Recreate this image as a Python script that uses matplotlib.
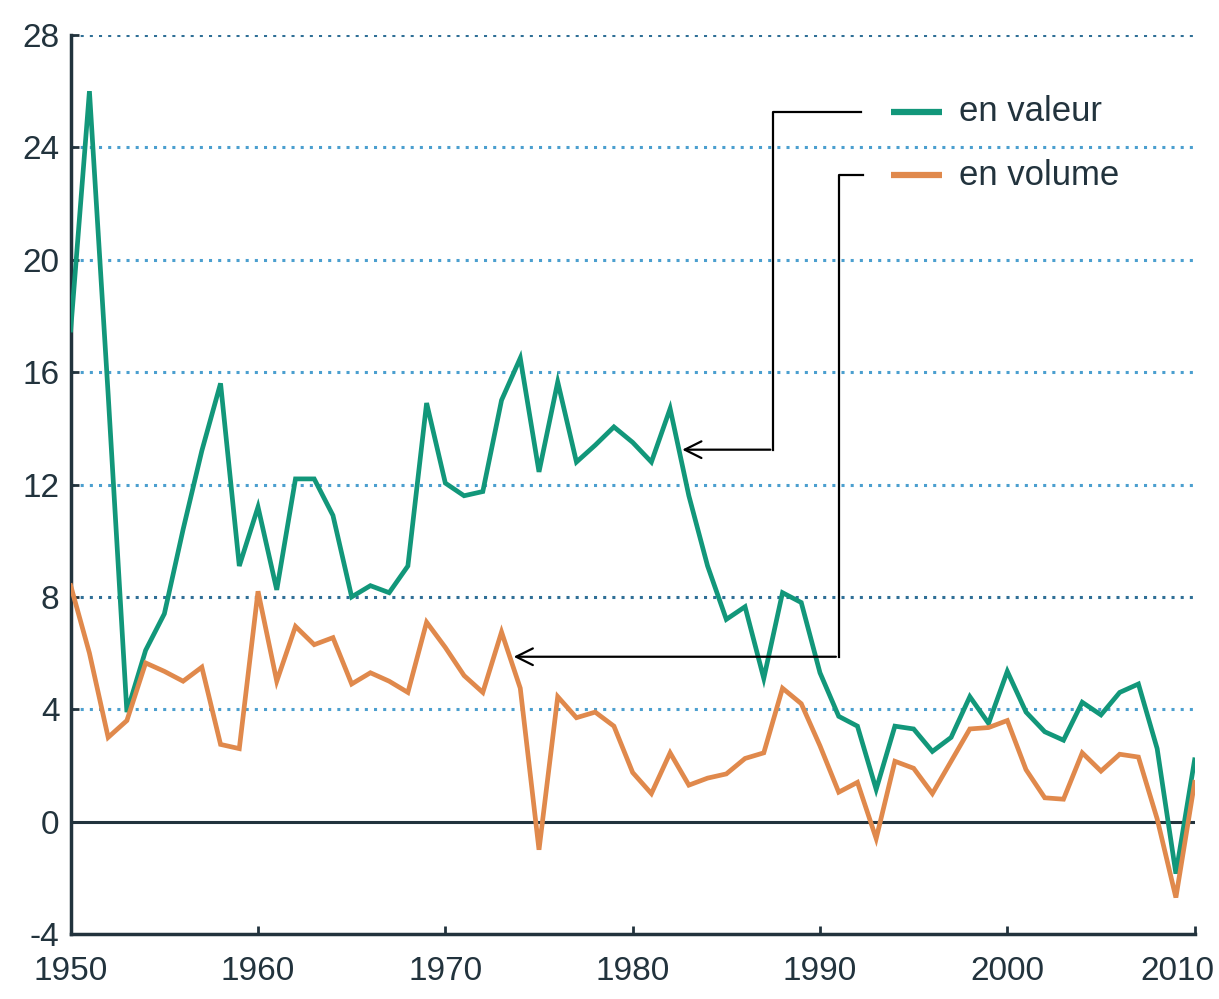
import numpy as np
import matplotlib
matplotlib.use("Agg")
import matplotlib.pyplot as plt
import matplotlib.transforms as mtransforms

plt.rcParams['font.family'] = ['Liberation Sans', 'DejaVu Sans']
plt.rcParams['axes.unicode_minus'] = False

years = list(range(1950, 2011))

# croissance en valeur (%)
valeur = [17.5, 26.0, 15.2, 3.9, 6.1, 7.4, 10.4, 13.2, 15.6, 9.1,
          11.2, 8.25, 12.2, 12.2, 10.9, 8.0, 8.4, 8.15, 9.1, 14.9,
          12.05, 11.6, 11.75, 15.0, 16.5, 12.45, 15.65, 12.8, 13.4, 14.05,
          13.5, 12.8, 14.7, 11.6, 9.1, 7.2, 7.65, 5.1, 8.15, 7.8,
          5.3, 3.75, 3.4, 1.15, 3.4, 3.3, 2.5, 3.0, 4.45, 3.5,
          5.35, 3.9, 3.2, 2.9, 4.25, 3.8, 4.6, 4.9, 2.6, -1.85,
          2.2]

# croissance en volume (%)
volume = [8.4, 6.0, 3.0, 3.6, 5.65, 5.35, 5.0, 5.5, 2.75, 2.6,
          8.2, 5.0, 6.95, 6.3, 6.55, 4.9, 5.3, 5.0, 4.6, 7.1,
          6.2, 5.2, 4.6, 6.75, 4.75, -1.0, 4.45, 3.7, 3.9, 3.4,
          1.75, 1.0, 2.45, 1.3, 1.55, 1.7, 2.25, 2.45, 4.75, 4.2,
          2.7, 1.05, 1.4, -0.6, 2.15, 1.9, 1.0, 2.15, 3.3, 3.35,
          3.6, 1.85, 0.85, 0.8, 2.45, 1.8, 2.4, 2.3, 0.1, -2.7,
          1.4]

yticks = [-4, 0, 4, 8, 12, 16, 20, 24, 28]
xticks = [1950, 1960, 1970, 1980, 1990, 2000, 2010]

green = '#12977a'
orange = '#e0894c'
ink = '#22333d'

fig = plt.figure(figsize=(12.19, 9.99), dpi=100)
ax = fig.add_axes([0.058, 0.065, 0.922, 0.9])

# grille pointillée
for v in yticks[2:]:
    col = '#2f6f96' if v in (8, 28) else '#4b9fcf'
    ax.axhline(v, color=col, lw=2.2, ls=(0, (1, 2)), zorder=1)
ax.axhline(0, color=ink, lw=2.2, zorder=1)

ax.plot(years, valeur, color=green, lw=3.4, zorder=3, solid_joinstyle='miter')
ax.plot(years, volume, color=orange, lw=3.4, zorder=3, solid_joinstyle='miter')

ax.set_xlim(1950, 2010)
ax.set_ylim(-4, 28)
ax.set_xticks(xticks)
ax.set_yticks(yticks)
ax.tick_params(direction='in', length=6, width=2, colors=ink, labelsize=24)
ax.tick_params(axis='y', pad=8)
ax.tick_params(axis='x', pad=16)
for s in ['top', 'right']:
    ax.spines[s].set_visible(False)
for s in ['left', 'bottom']:
    ax.spines[s].set_color(ink)
    ax.spines[s].set_linewidth(2.5)

# dernier label un peu décalé à gauche pour rester dans l'image
last = ax.get_xticklabels()[-1]
last.set_transform(last.get_transform() + mtransforms.ScaledTranslation(-0.17, 0, fig.dpi_scale_trans))

# légende
ax.plot([1993.8, 1996.5], [25.27, 25.27], color=green, lw=4.5, solid_capstyle='butt')
ax.plot([1993.8, 1996.5], [23.0, 23.0], color=orange, lw=4.5, solid_capstyle='butt')
ax.text(1997.4, 25.27, 'en valeur', fontsize=25, color=ink, va='center')
ax.text(1997.4, 23.0, 'en volume', fontsize=25, color=ink, va='center')

# connecteurs légende -> courbes
ax.plot([1992.2, 1987.5, 1987.5], [25.27, 25.27, 13.24], color='black', lw=1.6)
ax.annotate('', xy=(1982.5, 13.24), xytext=(1987.5, 13.24),
            arrowprops=dict(arrowstyle='->', color='black', lw=1.6, mutation_scale=30))
ax.plot([1992.3, 1991.0, 1991.0], [23.0, 23.0, 5.87], color='black', lw=1.6)
ax.annotate('', xy=(1973.5, 5.87), xytext=(1991.0, 5.87),
            arrowprops=dict(arrowstyle='->', color='black', lw=1.6, mutation_scale=30))

fig.savefig('out.png', dpi=100)
